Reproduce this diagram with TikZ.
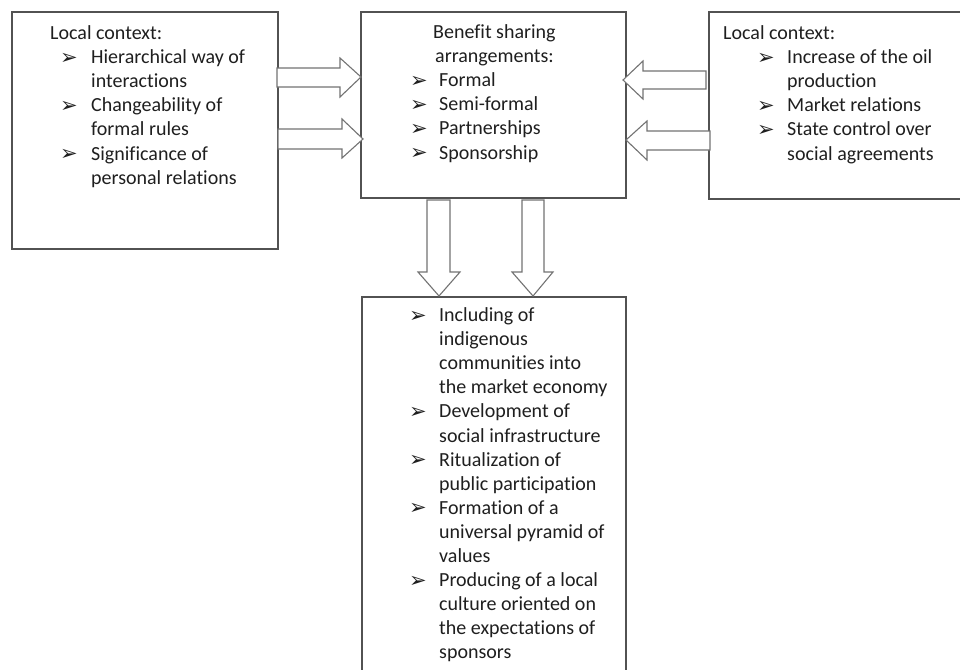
\documentclass[tikz,border=0pt]{standalone}
\usepackage{fontspec}
\setmainfont[Ligatures=NoCommon]{Carlito}
\newfontfamily\dejavu{DejaVu Sans}
\newcommand{\bul}{\raisebox{-0.5pt}{\dejavu\fontsize{21}{21}\selectfont ➢}}
\newcommand{\fst}{\rule{0pt}{15pt}}
\begin{document}
\begin{tikzpicture}[x=1pt,y=-1pt,
  boxnode/.style={draw=black!68, line width=1.4pt, fill=none, anchor=north west, inner sep=0, outer sep=0},
  txt/.style={anchor=north west, inner sep=0, align=left, text=black!88,
    font=\fontsize{20}{24.1}\selectfont},
  fatarrow/.style={draw=black!55, line width=1.1pt, fill=white, line join=miter}]
\useasboundingbox (0,0) rectangle (960,669);
\fill[white] (0,0) rectangle (960,669);
% boxes
\node[boxnode, minimum width=266pt, minimum height=237pt] (left) at (12,12) {};
\node[boxnode, minimum width=265pt, minimum height=186pt] (mid) at (361,12) {};
\node[boxnode, minimum width=271pt, minimum height=187pt] (right) at (709,12) {};
\node[boxnode, minimum width=264pt, minimum height=400pt] (bottom) at (362,297) {};
% arrows from left
\draw[fatarrow] (277,68) -- (340,68) -- (340,58) -- (361,77) -- (340,97) -- (340,87) -- (277,87) -- cycle;
\draw[fatarrow] (278,129) -- (342,129) -- (342,119) -- (363,139) -- (342,158) -- (342,149) -- (278,149) -- cycle;
% arrows from right
\draw[fatarrow] (706,71) -- (643,71) -- (643,61) -- (623,80) -- (643,99) -- (643,89) -- (706,89) -- cycle;
\draw[fatarrow] (710,131) -- (647,131) -- (647,121) -- (626,140) -- (647,160) -- (647,150) -- (710,150) -- cycle;
% down arrows
\draw[fatarrow] (427,200) -- (450,200) -- (450,272) -- (460,272) -- (439,296) -- (418,272) -- (427,272) -- cycle;
\draw[fatarrow] (522,200) -- (544,200) -- (544,272) -- (553,272) -- (533,296) -- (512,272) -- (522,272) -- cycle;
% texts
\node[txt] (lefttext) at (50,24.3) {\fst Local context:\\
\hspace*{10pt}\makebox[31pt][l]{\bul}Hierarchical way of\\
\hspace*{41pt}interactions\\
\hspace*{10pt}\makebox[31pt][l]{\bul}Changeability of\\
\hspace*{41pt}formal rules\\
\hspace*{10pt}\makebox[31pt][l]{\bul}Significance of\\
\hspace*{41pt}personal relations};
\node[txt] (midtext) at (410,23.3) {\fst\hspace*{23pt}Benefit sharing\\
\hspace*{25pt}arrangements:\\
\makebox[29pt][l]{\bul}Formal\\
\makebox[29pt][l]{\bul}Semi-formal\\
\makebox[29pt][l]{\bul}Partnerships\\
\makebox[29pt][l]{\bul}Sponsorship};
\node[txt] (righttext) at (723,24.3) {\fst Local context:\\
\hspace*{34pt}\makebox[30pt][l]{\bul}Increase of the oil\\
\hspace*{64pt}production\\
\hspace*{34pt}\makebox[30pt][l]{\bul}Market relations\\
\hspace*{34pt}\makebox[30pt][l]{\bul}State control over\\
\hspace*{64pt}social agreements};
\node[txt] (bottomtext) at (409,306.3) {\fst\makebox[30pt][l]{\bul}Including of\\
\hspace*{30pt}indigenous\\
\hspace*{30pt}communities into\\
\hspace*{30pt}the market economy\\
\makebox[30pt][l]{\bul}Development of\\
\hspace*{30pt}social infrastructure\\
\makebox[30pt][l]{\bul}Ritualization of\\
\hspace*{30pt}public participation\\
\makebox[30pt][l]{\bul}Formation of a\\
\hspace*{30pt}universal pyramid of\\
\hspace*{30pt}values\\
\makebox[30pt][l]{\bul}Producing of a local\\
\hspace*{30pt}culture oriented on\\
\hspace*{30pt}the expectations of\\
\hspace*{30pt}sponsors};
\end{tikzpicture}
\end{document}
